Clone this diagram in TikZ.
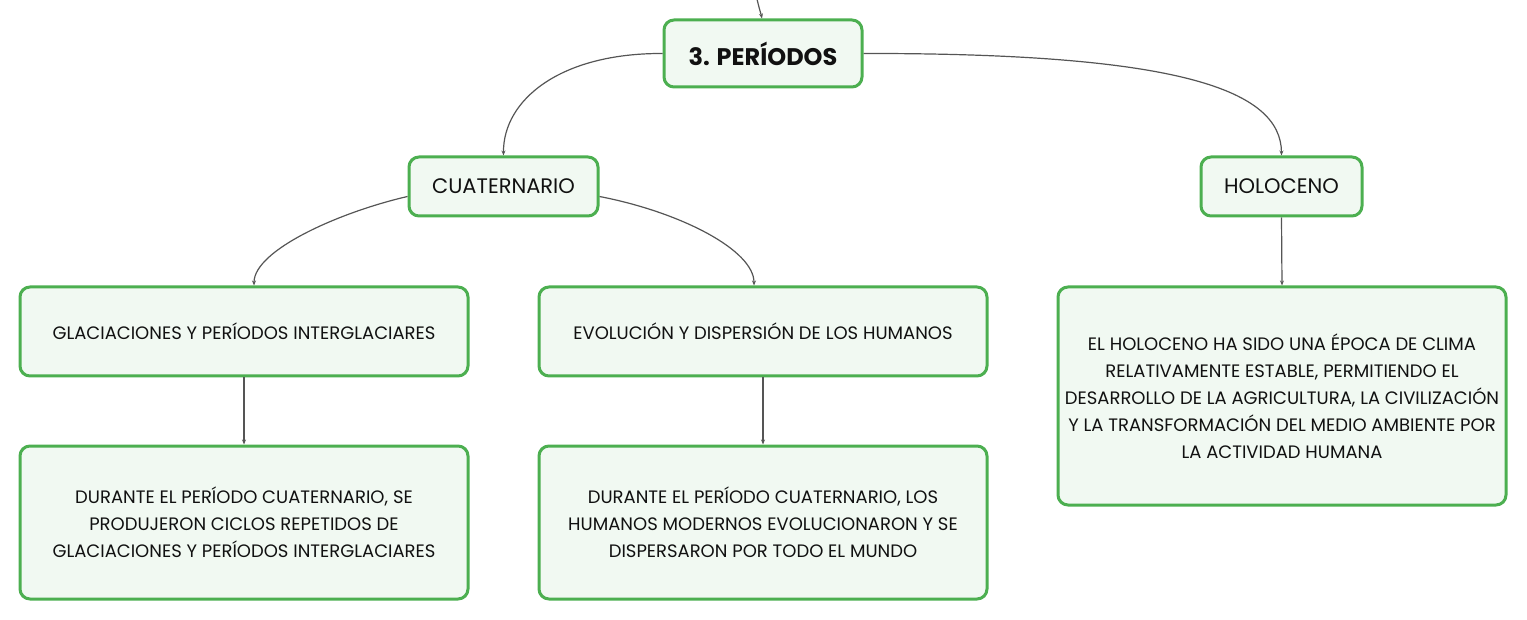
\documentclass[tikz,border=0pt]{standalone}
\usepackage{fontspec}
\setmainfont{Poppins}
\usetikzlibrary{arrows.meta}
\definecolor{bord}{HTML}{4CAF50}
\definecolor{fillg}{HTML}{F1F9F2}
\definecolor{conn}{HTML}{555555}
\definecolor{txt}{HTML}{111111}
\tikzset{
  box/.style={draw=bord, fill=fillg, line width=3pt, rounded corners=10pt, align=center, text=txt, inner sep=0pt, font=\fontsize{18}{27}\selectfont},
  link/.style={draw=conn, line width=1.2pt, -{Stealth[length=5pt,width=4pt]}},
}
\begin{document}
\begin{tikzpicture}[x=1pt,y=-1pt]
\useasboundingbox (0,0) rectangle (1527,620);
\node[box, minimum width=198pt, minimum height=67pt, font=\fontsize{24}{28}\selectfont\bfseries] (per) at (763,53.5) {3. PERÍODOS};
\node[box, minimum width=189pt, minimum height=59pt, font=\fontsize{21}{25}\selectfont] (cua) at (503.5,186.5) {CUATERNARIO};
\node[box, minimum width=161pt, minimum height=59pt, font=\fontsize{21}{25}\selectfont] (hol) at (1281.5,186.5) {HOLOCENO};
\node[box, minimum width=448pt, minimum height=89pt] (gla) at (244,331.5) {GLACIACIONES Y PERÍODOS INTERGLACIARES};
\node[box, minimum width=448pt, minimum height=89pt] (evo) at (763,331.5) {EVOLUCIÓN Y DISPERSIÓN DE LOS HUMANOS};
\node[box, minimum width=448pt, minimum height=153pt] (gld) at (244,522.5) {DURANTE EL PERÍODO CUATERNARIO, SE\\PRODUJERON CICLOS REPETIDOS DE\\GLACIACIONES Y PERÍODOS INTERGLACIARES};
\node[box, minimum width=448pt, minimum height=153pt] (evd) at (763,522.5) {DURANTE EL PERÍODO CUATERNARIO, LOS\\HUMANOS MODERNOS EVOLUCIONARON Y SE\\DISPERSARON POR TODO EL MUNDO};
\node[box, minimum width=448pt, minimum height=218pt] (hod) at (1282,396) {EL HOLOCENO HA SIDO UNA ÉPOCA DE CLIMA\\RELATIVAMENTE ESTABLE, PERMITIENDO EL\\DESARROLLO DE LA AGRICULTURA, LA CIVILIZACIÓN\\Y LA TRANSFORMACIÓN DEL MEDIO AMBIENTE POR\\LA ACTIVIDAD HUMANA};
\coordinate (src) at (757,-1);
\draw[link] (src) .. controls (759,8) and (761,14) .. ([xshift=-1pt]per.north);
\draw[link] (per.west) .. controls (560,53) and (503,100) .. (cua.north);
\draw[link] (per.east) .. controls (1180,53) and (1281,90) .. (hol.north);
\draw[link] ([yshift=-10pt]cua.west) .. controls (340,212) and (254,250) .. ([xshift=10pt]gla.north);
\draw[link] ([yshift=-10pt]cua.east) .. controls (680,212) and (754,250) .. ([xshift=-9pt]evo.north);
\draw[link] (gla.south) -- (gld.north);
\draw[link] (evo.south) -- (evd.north);
\draw[link] (hol.south) -- (hod.north);
\end{tikzpicture}
\end{document}
